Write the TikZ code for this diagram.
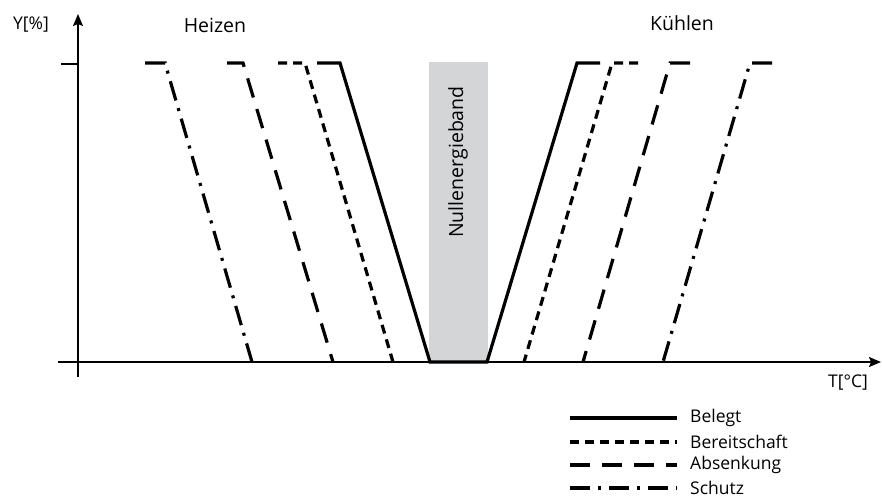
\documentclass[tikz,border=0pt]{standalone}
\usepackage{fontspec}
\setmainfont{Open Sans}
\usetikzlibrary{arrows.meta}
\definecolor{bandgray}{HTML}{D4D5D7}
\tikzset{
  axisline/.style={line width=1.6pt},
  curvebase/.style={line width=3.2pt, line join=miter},
  belegt/.style={curvebase},
  bereit/.style={curvebase, dash pattern=on 9pt off 6pt},
  absenk/.style={curvebase, dash pattern=on 20pt off 12pt},
  schutz/.style={curvebase, dash pattern=on 20pt off 8pt on 3pt off 8pt},
  biglabel/.style={font=\fontsize{19.5}{22}\selectfont, inner sep=0pt},
  smalllabel/.style={font=\fontsize{17.5}{20}\selectfont, inner sep=0pt},
  tip/.style={-{Stealth[length=12pt,width=10pt,inset=2pt]}}
}
\begin{document}
\begin{tikzpicture}[x=1pt,y=-1pt]
\useasboundingbox (0,0) rectangle (882,498);
% zero-energy band
\fill[bandgray] (429,62) rectangle (488,362);
\node[biglabel, rotate=90] (band) at (458,162) {Nullenergieband};
% axes
\coordinate (xs) at (58,362);
\coordinate (xe) at (881,362);
\coordinate (ys) at (78,377);
\coordinate (ye) at (78,14);
\coordinate (t1) at (61,64);
\coordinate (t2) at (78,64);
\draw[axisline, tip] (xs) -- (xe);
\draw[axisline, tip] (ys) -- (ye);
\draw[axisline] (t1) -- (t2);
% labels
\node[smalllabel] (ylab) at (31,25) {Y[\%]};
\node[smalllabel] (xlab) at (848,383) {T[°C]};
\node[biglabel] (heat) at (215,25) {Heizen};
\node[biglabel] (cool) at (682,23) {Kühlen};
% curves
\draw[belegt] (317,63) -- (340,63) -- (430,362) -- (487,362) -- (577,63) -- (600,63);
\draw[bereit] (278,63) -- (305,63) -- (393,362);
\draw[bereit] (638,63) -- (612,63) -- (524,362);
\draw[absenk] (227,63) -- (243,63) -- (333,362);
\draw[absenk] (690,63) -- (670,63) -- (583,362);
\draw[schutz] (145,63) -- (165,63) -- (252,362);
\draw[schutz] (772,63) -- (750,63) -- (663,362);
% legend
\coordinate (l1a) at (570,418); \coordinate (l1b) at (677,418);
\coordinate (l2a) at (570,442); \coordinate (l2b) at (677,442);
\coordinate (l3a) at (570,465); \coordinate (l3b) at (677,465);
\coordinate (l4a) at (570,488); \coordinate (l4b) at (677,488);
\draw[belegt] (l1a) -- (l1b);
\draw[bereit] (l2a) -- (l2b);
\draw[absenk] (l3a) -- (l3b);
\draw[schutz] (l4a) -- (l4b);
\node[smalllabel, anchor=west] (g1) at (690,418) {Belegt};
\node[smalllabel, anchor=west] (g2) at (690,442) {Bereitschaft};
\node[smalllabel, anchor=west] (g3) at (690,465) {Absenkung};
\node[smalllabel, anchor=west] (g4) at (690,488) {Schutz};
\end{tikzpicture}
\end{document}
